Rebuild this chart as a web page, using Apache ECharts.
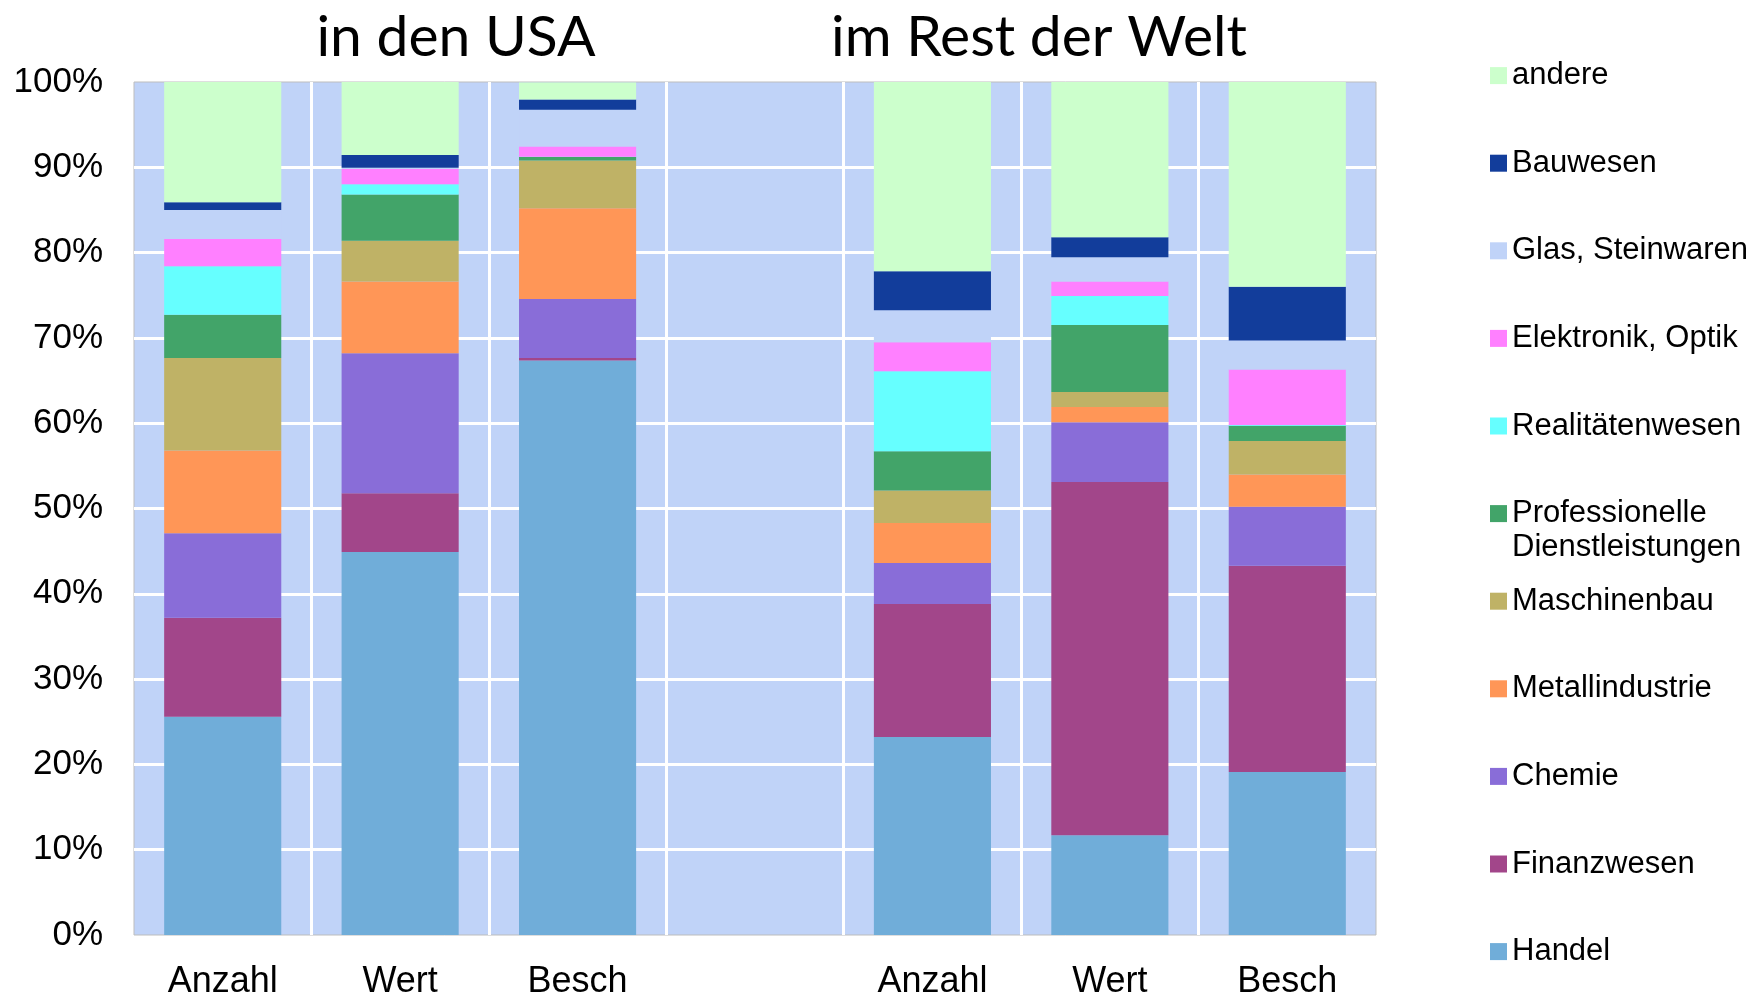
<!DOCTYPE html>
<html>
<head>
<meta charset="utf-8">
<script src="https://cdn.jsdelivr.net/npm/echarts@6/dist/echarts.min.js"></script>
<style>html,body{margin:0;padding:0;background:#fff;}#c{width:1752px;height:994px;}</style>
</head>
<body>
<div id="c"></div>
<script>
const categories = ['Anzahl', 'Wert', 'Besch', '', 'Anzahl', 'Wert', 'Besch'];
const groupTitles = ['in den USA', 'im Rest der Welt'];
const yTicks = [0, 10, 20, 30, 40, 50, 60, 70, 80, 90, 100];

const handel          = [25.6, 44.9, 67.35, null, 23.2, 11.7, 19.1];
const finanzwesen     = [11.6, 6.9, 0.3, null, 15.6, 41.4, 24.2];
const chemie          = [9.9, 16.4, 6.9, null, 4.8, 7.0, 6.9];
const metallindustrie = [9.7, 8.4, 10.65, null, 4.7, 1.8, 3.8];
const maschinenbau    = [10.85, 4.8, 5.6, null, 3.8, 1.75, 3.9];
const professionelle  = [5.05, 5.4, 0.4, null, 4.6, 7.85, 1.8];
const realitaeten     = [5.7, 1.2, 0.05, null, 9.4, 3.4, 0.1];
const elektronik      = [3.2, 1.8, 1.2, null, 3.4, 1.7, 6.5];
const glas            = [3.4, 0.15, 4.3, null, 3.75, 2.85, 3.4];
const bauwesen        = [0.9, 1.5, 1.2, null, 4.55, 2.35, 6.3];
const andere          = [14.1, 8.55, 2.0, null, 22.2, 18.2, 24.0];

const seriesDefs = [
  ['Handel', handel, '#70ADD9'],
  ['Finanzwesen', finanzwesen, '#A2468A'],
  ['Chemie', chemie, '#896DD8'],
  ['Metallindustrie', metallindustrie, '#FF9657'],
  ['Maschinenbau', maschinenbau, '#BFB266'],
  ['Professionelle Dienstleistungen', professionelle, '#42A469'],
  ['Realitätenwesen', realitaeten, '#66FFFF'],
  ['Elektronik, Optik', elektronik, '#FF80FF'],
  ['Glas, Steinwaren', glas, '#C0D3F8'],
  ['Bauwesen', bauwesen, '#123D9B'],
  ['andere', andere, '#CCFFCC']
];

const chart = echarts.init(document.getElementById('c'), null, {renderer: 'canvas'});
const legendFont = 'Liberation Sans, Arial, sans-serif';

chart.setOption({
  animation: false,
  backgroundColor: '#ffffff',
  grid: {
    left: 134, right: 376, top: 82, bottom: 59,
    containLabel: false, outerBoundsMode: 'none',
    show: true, backgroundColor: '#C0D3F8', borderColor: '#BDBDBD', borderWidth: 1
  },
  xAxis: {
    type: 'category',
    data: categories,
    axisLine: {show: false},
    axisTick: {show: false},
    axisLabel: {color: '#000', fontSize: 36, fontFamily: legendFont, margin: 29},
    splitLine: {show: true, showMinLine: false, showMaxLine: false, lineStyle: {color: '#ffffff', width: 3}}
  },
  yAxis: {
    type: 'value',
    min: yTicks[0], max: yTicks[yTicks.length - 1], interval: 10,
    axisLine: {show: false},
    axisTick: {show: false},
    axisLabel: {color: '#000', fontSize: 35, fontFamily: legendFont, margin: 31, formatter: '{value}%'},
    splitLine: {show: true, showMinLine: false, showMaxLine: false, lineStyle: {color: '#ffffff', width: 3}}
  },
  legend: {
    orient: 'vertical',
    left: 1485, top: 52.6,
    itemWidth: 17, itemHeight: 17, itemGap: 51.6,
    icon: 'rect',
    selectedMode: false,
    data: seriesDefs.map(d => d[0]).slice().reverse(),
    textStyle: {color: '#000', fontSize: 31, fontFamily: legendFont, lineHeight: 36},
    formatter: n => n === 'Professionelle Dienstleistungen' ? 'Professionelle' : n
  },
  graphic: [
    {type: 'text', x: 456, y: 38, silent: true,
     style: {text: groupTitles[0], fill: '#000', font: '57px Lato, sans-serif', align: 'center', verticalAlign: 'middle'}},
    {type: 'text', x: 1039, y: 38, silent: true,
     style: {text: groupTitles[1], fill: '#000', font: '57px Lato, sans-serif', align: 'center', verticalAlign: 'middle'}},
    {type: 'text', x: 1512, y: 547, silent: true,
     style: {text: 'Dienstleistungen', fill: '#000', font: '31px Liberation Sans, Arial, sans-serif', align: 'left', verticalAlign: 'middle'}}
  ],
  series: seriesDefs.map(([name, data, color]) => ({
    name, type: 'bar', stack: 'total', data,
    barWidth: '66%',
    itemStyle: {color},
    emphasis: {disabled: true}
  }))
});
</script>
</body>
</html>
